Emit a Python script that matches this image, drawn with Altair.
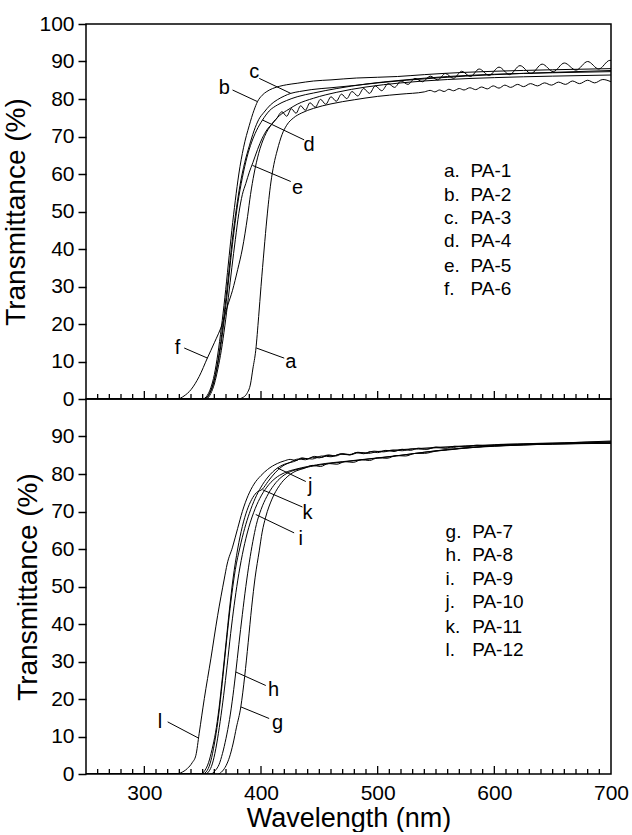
import altair as alt
import pandas as pd

FONT = "Liberation Sans"
W, H = 525, 375

# ---------------- top panel: PA-1 .. PA-6 ----------------
A_NM = [250, 380, 385, 388, 391, 393, 395.5, 398, 400, 402.7, 405, 408.4, 411, 414, 418, 422, 428, 435, 445, 460, 480, 500, 520, 540,
        545, 549, 553, 557, 561, 565, 570, 574, 579, 584, 589, 594, 599, 604, 609, 614, 620, 625, 631, 637, 643, 649, 655, 661,
        667, 673, 680, 686, 693, 700]
A_T = [0, 0, 0.5, 1.5, 4, 8, 13, 22, 30, 40, 48, 57.6, 62.5, 66.4, 70.5, 73, 75, 76.3, 77.5, 78.7, 79.8, 80.7, 81.3, 81.9,
       82.3, 81.9, 82.4, 82.0, 82.6, 82.2, 82.8, 82.4, 83.0, 82.5, 83.2, 82.7, 83.5, 82.9, 83.7, 83.1, 83.9, 83.3, 84.1, 83.5,
       84.3, 83.7, 84.5, 83.9, 84.8, 84.1, 85.0, 84.3, 85.2, 84.6]

B_NM = [250, 350, 354, 357, 360, 363, 366, 369, 372, 375, 378, 381, 385, 390, 394, 397, 401, 405, 410, 416, 422, 431, 445,
        460, 482, 500, 517, 540, 574, 600, 650, 700]
B_T = [0, 0, 1, 3, 6.5, 12, 19, 27, 36, 45, 53, 60, 67, 73, 77, 79.3, 81, 82, 82.8, 83.4, 83.8, 84.2, 84.8,
       85.1, 85.6, 85.8, 86.0, 86.5, 87.1, 87.4, 87.8, 88.1]

C_NM = [250, 351, 355, 358, 361, 364, 367, 370, 373, 376, 379, 382, 386, 390, 394, 398, 402.7, 408, 414, 420, 425.5, 433,
        443, 460, 483, 500, 550, 600, 650, 700]
C_T = [0, 0, 1, 3, 6.5, 12, 19, 27, 35.5, 44, 51, 57, 63, 67.5, 71.5, 74.5, 76.5, 78.4, 79.8, 80.8, 81.5, 82,
       82.5, 83, 83.7, 84.3, 85.6, 86.5, 87.1, 87.6]

D_NM = [250, 352, 356, 359, 362, 365, 368, 371, 374, 377, 380, 384, 388, 392, 396, 401.3, 407, 414, 422, 431, 445, 465,
        490, 520, 560, 600, 650, 700]
D_T = [0, 0, 1.5, 4, 8, 13, 20, 28, 37, 45, 52, 59, 64.5, 68.5, 71.5, 74.4, 76.8, 78.4, 79.6, 80.6, 81.6, 82.8,
       84, 85, 86, 86.6, 87, 87.3]

E_NM = [250, 353, 357, 360, 363, 366, 369, 372, 375, 378, 381, 384, 387, 390, 393, 397, 401, 405.6, 409, 413,
        418, 422, 426, 430, 434, 438, 442, 446.5, 451, 455.5, 460, 464.5, 469, 473.5, 478, 483, 488, 493, 498, 503.5,
        509, 514.5, 520, 526, 532, 538.5, 545, 551.5, 558, 565, 572, 579.5, 587, 595.5, 604, 613, 622, 631.5, 641,
        650.5, 660, 670, 680, 689.5, 699, 700]
E_T = [0, 0, 1.5, 4, 8, 13, 19.5, 27, 35, 42.5, 49.5, 54.5, 57.5, 60.5, 63, 66.5, 69.5, 72, 73.2, 74.6,
       76.6, 75.4, 77.4, 76.2, 78.2, 77.0, 79.0, 77.8, 79.9, 78.6, 80.6, 79.4, 81.3, 80.1, 82.0, 80.8, 82.8, 81.5, 83.5, 82.2,
       84.1, 83.1, 84.8, 83.9, 85.5, 84.6, 86.1, 85.1, 86.8, 85.5, 87.4, 86.0, 88.0, 86.3, 88.5, 86.5, 88.9, 86.8, 89.3,
       87.3, 89.6, 87.7, 90.0, 88.0, 90.3, 90.3]

F_NM = [250, 328, 334, 340, 347, 354, 360, 367, 371, 375.6, 380, 384, 388.5, 391, 394, 398, 403, 409, 416, 424, 431,
        445, 465, 490, 520, 560, 600, 650, 700]
F_T = [0, 0, 0.8, 2.5, 6, 10.9, 15, 20.2, 24.5, 29, 34.5, 40, 48.7, 54.5, 60, 65.5, 70, 73.2, 75.6, 77.3, 78.6,
       80.2, 81.8, 83.2, 84.3, 85.2, 85.7, 86.1, 86.4]

TOP_NAMES = ["a", "b", "c", "d", "e", "f"]
TOP_NM = [A_NM, B_NM, C_NM, D_NM, E_NM, F_NM]
TOP_T = [A_T, B_T, C_T, D_T, E_T, F_T]

TOP_LBL_NM = [425.5, 368.5, 394.2, 441.3, 431.3, 328.5]
TOP_LBL_T = [10, 82.9, 87.3, 67.8, 56.2, 13.6]
TOP_LD_NM1 = [419.9, 375.6, 398.5, 437, 425.5, 334.2]
TOP_LD_T1 = [10.9, 82.4, 85.5, 69.1, 58, 13.6]
TOP_LD_NM2 = [396, 397, 425.5, 401.3, 392.7, 354.2]
TOP_LD_T2 = [13.6, 79.3, 81.5, 74.4, 62.3, 10.9]

TOP_LEG_LETTER = ["a.", "b.", "c.", "d.", "e.", "f."]
TOP_LEG_NAME = ["PA-1", "PA-2", "PA-3", "PA-4", "PA-5", "PA-6"]
TOP_LEG_T = [60.7, 54.5, 48.3, 42.1, 35.5, 29.3]
TOP_LEG_NM1 = 556.8
TOP_LEG_NM2 = 579.6

# ---------------- bottom panel: PA-7 .. PA-12 ----------------
G_NM = [250, 363, 367, 370, 373, 376, 379, 382.7, 386, 389, 392, 395, 398.5, 401, 404, 409.4, 416, 423, 430, 437, 444,
        451, 458, 465, 472, 479, 486, 493, 500, 508, 516, 524, 532, 540, 550, 560, 575, 590, 610, 630, 650, 675, 700]
G_T = [0, 0, 0.8, 2.2, 4.5, 8, 12.5, 17.9, 26, 35, 44.5, 52.5, 59.5, 64.5, 68.5, 73.3, 77, 79.4, 80.8, 81.5, 82.3,
       82.0, 82.8, 82.6, 83.3, 83.1, 83.8, 83.6, 84.3, 84.2, 84.9, 84.8, 85.5, 85.5, 86.1, 86.4, 86.9, 87.3, 87.6, 87.8,
       88.0, 88.1, 88.2]

H_NM = [250, 357, 361, 364, 367, 370, 373, 376, 378.4, 381, 384, 387, 390, 393, 396, 400, 405, 411, 418, 425, 435, 450,
        470, 490, 510, 530, 550, 570, 600, 650, 700]
H_T = [0, 0, 1, 2.5, 5.5, 9.5, 14.5, 21, 27.2, 34.5, 42.5, 50, 56.5, 62, 66.5, 70.5, 74, 77, 79.3, 80.6, 81.5, 82.4,
       83.2, 83.9, 84.6, 85.4, 86.2, 86.8, 87.4, 88.0, 88.2]

I_NM = [250, 352, 356, 359, 362, 365, 368, 371, 374, 377, 380, 384, 388, 393.8, 399, 405, 412, 420, 430, 440, 455, 470,
        485, 500, 520, 540, 560, 580, 600, 650, 700]
I_T = [0, 0, 1, 3.5, 8, 14, 21, 29, 37.5, 45, 51.5, 58.5, 64, 69.8, 73.5, 76.5, 78.8, 80.3, 81.3, 82.0, 82.8, 83.3,
       83.8, 84.3, 85.0, 85.8, 86.5, 87.1, 87.5, 88.0, 88.3]

J_NM = [250, 350, 354, 357, 360, 363, 366, 369, 372, 375, 378, 382, 386, 390, 395, 400, 406, 414.1, 420, 428, 436, 444,
        452, 460, 468, 476, 484, 492, 500, 510, 520, 535, 550, 575, 600, 650, 700]
J_T = [0, 0, 1, 3.5, 8, 14, 22, 31, 40, 48, 54.5, 60.5, 65.5, 69.5, 73.5, 76.5, 79.2, 81.6, 82.6, 83.3, 84.2, 84.0,
       84.8, 84.6, 85.3, 85.1, 85.7, 85.5, 86.0, 86.2, 86.5, 86.8, 87.1, 87.5, 87.8, 88.2, 88.8]

K_NM = [250, 348, 352, 355, 358, 361, 364, 367, 370, 373, 376, 380, 384, 388, 392, 396, 401.3, 406, 412, 418, 425, 432,
        438, 444, 450, 456, 462, 469, 476, 483, 490, 497, 505, 513, 521, 530, 540, 550, 560, 570, 585, 600, 625, 650,
        675, 700]
K_T = [0, 0, 1, 3, 6.5, 11, 17.5, 26, 35, 44, 52, 60, 66, 70.3, 73.2, 75.0, 76.0, 78, 80.3, 82.0, 83.1, 84.0,
       83.8, 84.5, 84.3, 85.0, 84.8, 85.4, 85.2, 85.8, 85.6, 86.1, 85.9, 86.4, 86.2, 86.7, 86.6, 87.0, 86.9, 87.3, 87.5,
       87.7, 87.9, 88.1, 88.3, 88.5]

L_NM = [250, 326, 331, 337, 341, 344.2, 347, 351.4, 357, 362.8, 368.5, 371, 375.6, 380, 384, 389, 394, 400, 405.6, 414,
        420, 425, 430, 435, 440, 446, 452, 458, 464, 470, 476, 482, 488, 494, 500, 507, 514, 521, 528, 535, 542, 550,
        558, 566, 575, 585, 595, 605, 620, 640, 660, 680, 700]
L_T = [0, 0, 0.3, 1.5, 3, 5, 10.8, 20.1, 30.7, 42.2, 52, 56, 60.5, 65.5, 70, 74.3, 77.3, 79.6, 81.2, 82.8,
       83.5, 83.9, 83.6, 84.3, 84.0, 84.7, 84.4, 85.1, 84.8, 85.4, 85.1, 85.7, 85.4, 86.0, 85.7, 86.3, 86.0, 86.6, 86.3,
       86.9, 86.6, 87.2, 86.9, 87.4, 87.2, 87.7, 87.5, 87.9, 88.0, 88.2, 88.3, 88.5, 88.6]

BOT_NAMES = ["g", "h", "i", "j", "k", "l"]
BOT_NM = [G_NM, H_NM, I_NM, J_NM, K_NM, L_NM]
BOT_T = [G_T, H_T, I_T, J_T, K_T, L_T]

BOT_LBL_NM = [414.1, 410.7, 434.1, 442.1, 439.8, 313.4]
BOT_LBL_T = [13.5, 22.3, 62.6, 76.7, 69.7, 13.9]
BOT_LD_NM1 = [407, 404.1, 428.4, 438.4, 435.5, 320]
BOT_LD_T1 = [14.8, 23.6, 64.3, 78, 71.2, 13.9]
BOT_LD_NM2 = [382.7, 378.4, 395.5, 414.1, 401.3, 346.3]
BOT_LD_T2 = [17.9, 27.2, 69.2, 81.6, 75.8, 9.6]

BOT_LEG_LETTER = ["g.", "h.", "i.", "j.", "k.", "l."]
BOT_LEG_NAME = ["PA-7", "PA-8", "PA-9", "PA-10", "PA-11", "PA-12"]
BOT_LEG_T = [64.6, 58.3, 52.1, 45.9, 39.3, 33.1]
BOT_LEG_NM1 = 558.2
BOT_LEG_NM2 = 581.0

# ---------------- axes ----------------
X_DOMAIN = [250, 700]
X_LABELS = [300, 400, 500, 600, 700]
X_MAJOR = [300, 400, 500, 600]
X_MINOR = [260, 270, 280, 290, 310, 320, 330, 340, 350, 360, 370, 380, 390, 410, 420, 430, 440, 450, 460, 470, 480,
           490, 510, 520, 530, 540, 550, 560, 570, 580, 590, 610, 620, 630, 640, 650, 660, 670, 680, 690]
TOP_Y_VALUES = [0, 10, 20, 30, 40, 50, 60, 70, 80, 90, 100]
BOT_Y_VALUES = [0, 10, 20, 30, 40, 50, 60, 70, 80, 90]


def curves_frame(names, nms, ts):
    rows = []
    for name, nm, t in zip(names, nms, ts):
        for i, (x, y) in enumerate(zip(nm, t)):
            rows.append({"s": name, "nm": x, "T": y, "o": i})
    return pd.DataFrame(rows)


def panel(names, nms, ts, lbl_nm, lbl_t, ld_nm1, ld_t1, ld_nm2, ld_t2,
          leg_letter, leg_name, leg_t, leg_x1, leg_x2, yvals, bottom):
    xs = alt.Scale(domain=X_DOMAIN, nice=False, zero=False)
    ys = alt.Scale(domain=[0, 100], nice=False, zero=False)
    if bottom:
        xaxis = alt.Axis(values=X_LABELS, ticks=False, domain=False, grid=False, labelFlush=False,
                         labelPadding=8, labelFontSize=21, labelFont=FONT, labelColor="black",
                         title="Wavelength (nm)", titleFontSize=27, titleFont=FONT,
                         titleFontWeight="normal", titleColor="black", titlePadding=2)
    else:
        xaxis = None
    yaxis = alt.Axis(values=yvals, tickSize=8, tickWidth=1.5, tickColor="black", domain=False, grid=False,
                     labelFontSize=21, labelFont=FONT, labelColor="black", labelPadding=4,
                     title="Transmittance (%)", titleFontSize=28, titleFont=FONT,
                     titleFontWeight="normal", titleColor="black", titlePadding=8)

    def X(f="nm"):
        return alt.X(f"{f}:Q", scale=xs, axis=xaxis)

    def Y(f="T"):
        return alt.Y(f"{f}:Q", scale=ys, axis=yaxis)

    cdf = curves_frame(names, nms, ts)
    lines = alt.Chart(cdf).mark_line(color="black", strokeWidth=1, interpolate="monotone", clip=True).encode(
        x=X(), y=Y(), detail="s:N", order="o:Q")

    ldf = pd.DataFrame({"lbl": names, "nm": lbl_nm, "T": lbl_t})
    letters = alt.Chart(ldf).mark_text(font=FONT, fontSize=20, color="black", align="center",
                                       baseline="middle").encode(x=X(), y=Y(), text="lbl:N")

    rdf = pd.DataFrame({"nm": ld_nm1, "T": ld_t1, "nm2": ld_nm2, "T2": ld_t2})
    leaders = alt.Chart(rdf).mark_rule(color="black", strokeWidth=1).encode(
        x=X(), y=Y(), x2=alt.X2("nm2:Q"), y2=alt.Y2("T2:Q"))

    gdf = pd.DataFrame({"a": leg_letter, "b": leg_name, "T": leg_t,
                        "x1": [leg_x1] * len(leg_t), "x2": [leg_x2] * len(leg_t)})
    leg1 = alt.Chart(gdf).mark_text(font=FONT, fontSize=19, color="black", align="left",
                                    baseline="middle").encode(x=X("x1"), y=Y(), text="a:N")
    leg2 = alt.Chart(gdf).mark_text(font=FONT, fontSize=19, color="black", align="left",
                                    baseline="middle").encode(x=X("x2"), y=Y(), text="b:N")

    minor = alt.Chart(pd.DataFrame({"nm": X_MINOR})).mark_rule(color="black", strokeWidth=1.3).encode(
        x=X(), y=alt.value(H), y2=alt.value(H - 5))
    major = alt.Chart(pd.DataFrame({"nm": X_MAJOR})).mark_rule(color="black", strokeWidth=1.3).encode(
        x=X(), y=alt.value(H), y2=alt.value(H - 8))

    return alt.layer(lines, leaders, letters, leg1, leg2, minor, major).properties(width=W, height=H)


top = panel(TOP_NAMES, TOP_NM, TOP_T, TOP_LBL_NM, TOP_LBL_T, TOP_LD_NM1, TOP_LD_T1, TOP_LD_NM2, TOP_LD_T2,
            TOP_LEG_LETTER, TOP_LEG_NAME, TOP_LEG_T, TOP_LEG_NM1, TOP_LEG_NM2, TOP_Y_VALUES, False)
bottom = panel(BOT_NAMES, BOT_NM, BOT_T, BOT_LBL_NM, BOT_LBL_T, BOT_LD_NM1, BOT_LD_T1, BOT_LD_NM2, BOT_LD_T2,
               BOT_LEG_LETTER, BOT_LEG_NAME, BOT_LEG_T, BOT_LEG_NM1, BOT_LEG_NM2, BOT_Y_VALUES, True)

chart = alt.vconcat(top, bottom, spacing=0, bounds="flush").properties(
    padding={"left": 2, "top": 12, "right": 0, "bottom": 0},
    background="white",
).configure_view(stroke="black", strokeWidth=1.5)

chart.save("out.html", embed_options={"renderer": "svg", "actions": False})
